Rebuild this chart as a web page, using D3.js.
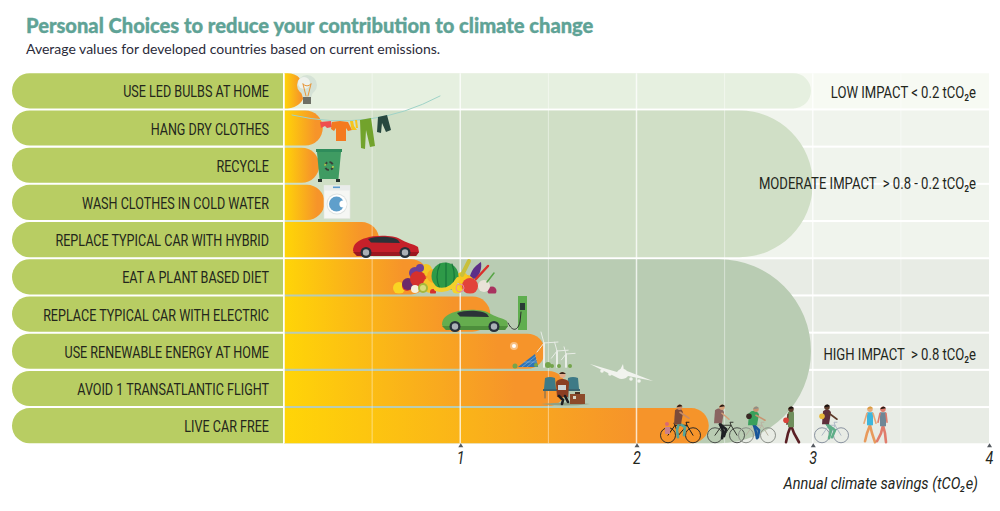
<!DOCTYPE html>
<html>
<head>
<meta charset="utf-8">
<script src="https://d3js.org/d3.v7.min.js"></script>
<title>Personal Choices</title>
<style>
    html, body {margin: 0; padding: 0; background: white;}
    svg {display: block;}
    .narrow {font-family: "Roboto", sans-serif; fill: #23261c;}
</style>
</head>
<body>
<script>
const choices = ['USE LED BULBS AT HOME', 'HANG DRY CLOTHES', 'RECYCLE', 'WASH CLOTHES IN COLD WATER',
    'REPLACE TYPICAL CAR WITH HYBRID', 'EAT A PLANT BASED DIET', 'REPLACE TYPICAL CAR WITH ELECTRIC',
    'USE RENEWABLE ENERGY AT HOME', 'AVOID 1 TRANSATLANTIC FLIGHT', 'LIVE CAR FREE']
const savings = [0.12, 0.22, 0.2, 0.23, 0.54, 0.82, 1.17, 1.48, 1.6, 2.41]

// which rows each impact band covers, and how far its rounded shape reaches
const bandNames = ['LOW IMPACT < 0.2 tCO₂e', 'MODERATE IMPACT  > 0.8 - 0.2 tCO₂e', 'HIGH IMPACT  > 0.8 tCO₂e']
const bandFirstRow = [0, 1, 5]
const bandLastRow = [0, 4, 9]
const bandReach = [2.99, 3, 2.99]
const bandBack = ['#f7faf3', '#f0f4ed', '#e8ece5']
const bandFill = ['#e6f0e0', '#d0dfc6', '#b9ccb3']

const tickValues = [1, 2, 3, 4]
const gridValues = [0.5, 1, 1.5, 2, 2.5, 3, 3.5]

const width = 1000
const height = 511

const svg = d3.select('body').append('svg')
    .attr('width', width)
    .attr('height', height)

const x = d3.scaleLinear().domain([0, 4]).range([284, 989])
const y = d3.scaleBand().domain(d3.range(choices.length)).range([72.5, 444]).paddingInner(0.055).paddingOuter(0.02)
const rowH = y.bandwidth()
const rowR = rowH / 2

// flat left edge, rounded right edge
const roundRight = (x0, x1, y0, y1, r) =>
    `M${x0},${y0}H${x1 - r}A${r},${r} 0 0 1 ${x1},${y0 + r}V${y1 - r}A${r},${r} 0 0 1 ${x1 - r},${y1}H${x0}Z`

// no condensed face is installed, so squeeze Roboto sideways
const squeeze = (px, py, sx) => `translate(${px},${py}) scale(${sx},1)`

svg.append('text').attr('x', 26).attr('y', 33)
    .attr('font-family', 'Lato').attr('font-weight', 900).attr('font-size', 20.1).attr('fill', '#5fa396')
    .attr('stroke', '#5fa396').attr('stroke-width', 0.35)
    .text('Personal Choices to reduce your contribution to climate change')
svg.append('text').attr('x', 26).attr('y', 54)
    .attr('font-family', 'Lato').attr('font-size', 14).attr('fill', '#2b2b3a')
    .text('Average values for developed countries based on current emissions.')

const defs = svg.append('defs')
const grad = defs.append('linearGradient').attr('id', 'barGrad')
grad.append('stop').attr('offset', '0%').attr('stop-color', '#ffd507')
grad.append('stop').attr('offset', '82%').attr('stop-color', '#f6942a')

// band backgrounds, row by row
bandNames.forEach((name, b) => {
    d3.range(bandFirstRow[b], bandLastRow[b] + 1).forEach(r => {
        svg.append('rect')
            .attr('x', x(0)).attr('y', y(r))
            .attr('width', x(4) - x(0)).attr('height', rowH)
            .attr('fill', bandBack[b])
    })
    const y0 = y(bandFirstRow[b])
    const y1 = y(bandLastRow[b]) + rowH
    svg.append('path')
        .attr('d', roundRight(x(0), x(bandReach[b]), y0, y1, (y1 - y0) / 2))
        .attr('fill', bandFill[b])
})

// label pills
svg.selectAll('.pill').data(choices).enter().append('path')
    .attr('class', 'pill')
    .attr('d', (d, i) => {
        const t = y(i), r = rowR
        return `M283,${t}V${t + rowH}H${12 + r}A${r},${r} 0 0 1 ${12 + r},${t}Z`
    })
    .attr('fill', '#b8cd63')

svg.selectAll('.label').data(choices).enter().append('text')
    .attr('class', 'label narrow')
    .attr('transform', (d, i) => squeeze(269, y(i) + rowH / 2 + 6.5, 0.74))
    .attr('text-anchor', 'end')
    .attr('font-size', 17)
    .text(d => d)

// bars
svg.selectAll('.bar').data(savings).enter().append('path')
    .attr('class', 'bar')
    .attr('d', (d, i) => roundRight(x(0), x(d), y(i), y(i) + rowH, rowR))
    .attr('fill', 'url(#barGrad)')

// grid
svg.selectAll('.grid').data(gridValues).enter().append('line')
    .attr('class', 'grid')
    .attr('x1', d => x(d)).attr('x2', d => x(d))
    .attr('y1', y(0)).attr('y2', y(9) + rowH)
    .attr('stroke', 'white')
    .attr('stroke-width', d => Number.isInteger(d) ? 1.5 : 1)
    .attr('stroke-opacity', d => Number.isInteger(d) ? 0.75 : 0.45)

// white edge between pills and bars
svg.append('line').attr('x1', x(0)).attr('x2', x(0)).attr('y1', y(0)).attr('y2', y(9) + rowH)
    .attr('stroke', 'white').attr('stroke-width', 1.5)

// the labels do not sit exactly on the middle of their bands
const labelNudge = [0.5, -1, 2.5]
svg.selectAll('.bandLabel').data(bandNames).enter().append('text')
    .attr('class', 'bandLabel narrow')
    .attr('transform', (d, i) => squeeze(976, (y(bandFirstRow[i]) + y(bandLastRow[i]) + rowH) / 2 + 6.5 + labelNudge[i], 0.77))
    .attr('text-anchor', 'end')
    .attr('font-size', 17)
    .style('white-space', 'pre')
    .text(d => d)

// axis
const axisY = y(9) + rowH
const axis = svg.append('g')
    .attr('transform', `translate(0,${axisY})`)
    .call(d3.axisBottom(x).tickValues(tickValues).tickSize(0).tickPadding(8).tickFormat(d3.format('d')))
axis.select('.domain').remove()
axis.selectAll('text')
    .attr('class', 'narrow')
    .attr('font-size', 18)
    .attr('font-style', 'italic')
    .attr('transform', 'scale(0.8,1)')
axis.selectAll('.tick').append('path')
    .attr('d', 'M0,0L2.5,4H-2.5Z')
    .attr('fill', '#555a60')

svg.append('text').attr('class', 'narrow')
    .attr('transform', squeeze(978, 489, 0.88))
    .attr('text-anchor', 'end')
    .attr('font-size', 16.5).attr('font-style', 'italic')
    .text('Annual climate savings (tCO₂e)')

// ---- illustrations ----
const art = svg.append('g')
const shape = (d, fill, g = art) => g.append('path').attr('d', d).attr('fill', fill)
const stroke = (d, color, w, g = art) => g.append('path').attr('d', d).attr('fill', 'none')
    .attr('stroke', color).attr('stroke-width', w).attr('stroke-linecap', 'round')
const disc = (cx, cy, r, fill, g = art) => g.append('circle').attr('cx', cx).attr('cy', cy).attr('r', r).attr('fill', fill)
const box = (bx, by, w, h, fill, g = art) => g.append('rect').attr('x', bx).attr('y', by).attr('width', w).attr('height', h).attr('fill', fill)

// bulb
disc(307, 85, 10, '#d5e2d6')
disc(304, 83, 6, '#eef2ec')
shape('M301,92L313,92L311,98H303Z', '#d5e2d6')
stroke('M303,84L306,96M311,84L308,96M303,84Q307,88 311,84', '#e8973a', 1)
box(303, 97, 8, 7, '#6d6f66')

// clothes line
stroke('M292,115Q370,133 440,96', '#9fd3c8', 1)
shape('M320,122L331,121L332,127L327,128L325,126L321,128Z', '#ef4e4e')
shape('M332,122L340,121L348,122L352,130L348,131L346,128L346,141L336,141L336,128L334,131L331,129Z', '#f47a20')
shape('M350,121L353,121L354,126L357,130L352,130L351,127ZM355,120L357,120L358,128L356,128Z', '#f6c41a')
shape('M360,120L371,118L375,146L370,147L366,130L365,149L361,148Z', '#72a32c')
shape('M378,117L387,115L391,130L386,132L382,123L381,133L377,132Z', '#28483f')

// bin
shape('M316,149H342V152H316Z', '#2f8c5b')
shape('M317,152H341L338.5,179H319.5Z', '#3f9b62')
box(318, 179, 4, 3, '#26332e')
box(336, 179, 4, 3, '#26332e')
art.append('circle').attr('cx', 329).attr('cy', 166).attr('r', 4)
    .attr('fill', 'none').attr('stroke', '#3a3f38').attr('stroke-width', 2).attr('stroke-dasharray', '4 2.3')
art.append('circle').attr('cx', 329).attr('cy', 166).attr('r', 4)
    .attr('fill', 'none').attr('stroke', '#a7cb52').attr('stroke-width', 2).attr('stroke-dasharray', '2 10.5')

// washing machine
box(324, 185.5, 26, 33, '#f6f7f4').attr('stroke', '#e4e7e2').attr('stroke-width', 0.6)
box(324, 185.5, 26, 5, '#e9ecea')
box(333, 186.5, 7, 1.6, '#5b9bd0')
disc(337, 204, 10.5, '#dfe3e1')
disc(337, 204, 9.5, '#ffffff')
disc(336.5, 204, 7.5, '#5f9fcb')
disc(343, 204, 3.6, '#ffffff')

// cars
const car = (cx, cy, s, color, dark) => {
    const g = art.append('g').attr('transform', `translate(${cx},${cy}) scale(${s})`)
    shape('M-33,4C-33,-3 -28,-7 -20,-9C-12,-12 8,-12 14,-8C20,-4 28,-3 32,0L33,5L30,9H-29Z', color, g)
    shape('M-18,-8C-10,-11 6,-11 12,-7L14,-4L-15,-4.5Z', '#2b3238', g)
    shape('M-33,5L33,5L30,9H-29Z', dark, g)
    ;[-20, 19].forEach(wx => {
        disc(wx, 5.5, 5.5, '#27303a', g)
        disc(wx, 5.5, 3.2, '#aab0b6', g)
    })
}
car(386, 247, 1, '#c5202a', '#9b1820')
car(475, 321, 1, '#65ad4e', '#4d8f3c')

// charger
box(518, 296, 9, 34, '#5fae4f')
box(520, 303, 5, 7, '#2a3a35')
stroke('M508,323C513,333 518,330 520,322L521,312', '#2a2e2a', 1)

// plant based pile
const food = art.append('g')
food.append('clipPath').attr('id', 'foodClip').append('rect').attr('x', 390).attr('y', 255).attr('width', 115).attr('height', 38.5)
food.attr('clip-path', 'url(#foodClip)')
const foodDots = [
    [399, 288, 6, '#f9d423'], [407, 286, 5, '#d93a2b'], [415, 273, 6, '#6b3f98'], [408, 284, 6, '#6c2a6a'],
    [426, 270, 6, '#f3c623'], [418, 279, 8, '#d5302d'], [431, 285, 8, '#f7c52a'], [415, 289, 4, '#f6f0dc'],
    [434, 276, 7, '#f7a823'], [420, 268, 4, '#6b3f98'], [457, 289, 5, '#f6d325'],
    [467, 283, 8, '#f7b81f'], [462, 278, 6, '#f7c71f'], [470, 286, 8, '#e2433a'], [492, 291, 4.5, '#a8325f'],
    [433, 292, 3, '#d5302d'], [484, 286, 6, '#e9e2d8']
]
foodDots.forEach(d => disc(d[0], d[1], d[2], d[3], food))
disc(423, 288, 5, '#a6b83a', food)
disc(423, 288, 3, '#d7dc7c', food)
disc(445, 276, 13.5, '#2e9a48', food)
stroke('M440,264Q434,277 440,289M446,263V290M452,264Q457,277 451,289', '#17753a', 1.2, food)
stroke('M436,289Q450,293 458,279', '#f3d02c', 4, food)
stroke('M462,275L469,261', '#c9c03a', 4, food)
shape('M470,276C472,268 478,264 481,262C482,268 480,276 474,279Z', '#5c2e88', food)
stroke('M476,279L488,266', '#d9302c', 2.5, food)
stroke('M487,282L494,273', '#58a446', 1.5, food)
food.append('circle').attr('cx', 460).attr('cy', 288).attr('r', 4)
    .attr('fill', 'none').attr('stroke', '#e88aa0').attr('stroke-width', 1)

// renewable energy
disc(514, 346, 2, '#ffffff')
disc(514, 346, 4, '#ffffff').attr('opacity', 0.4)
shape('M518,367L535,354L538,367Z', '#2f74b5')
stroke('M522,367L536,356M527,367L537,359M524,362L537,362', '#9cc6e4', 0.5)
;[[544, 343, 24, 1], [557, 351, 16, 0.8], [566, 354, 13, 0.65]].forEach(t => {
    stroke(`M${t[0]},${t[1]}V${t[1] + t[2]}`, '#f3f5f1', 1.7)
    stroke(`M${t[0]},${t[1]}L${t[0] - 3 * t[3]},${t[1] - 11 * t[3]}M${t[0]},${t[1]}L${t[0] + 14 * t[3]},${t[1] - 1 * t[3]}M${t[0]},${t[1]}L${t[0] - 7 * t[3]},${t[1] + 9 * t[3]}`, '#e8ece6', 1)
})
;[[515, 366, 2.5], [536, 365, 2], [548, 365, 3], [552, 366, 2], [559, 366, 2], [570, 366, 2]].forEach(b => disc(b[0], b[1], b[2], '#74a54c'))

// plane
shape('M590,364L617,372C620,368 624,368 627,371L653,381L628,376C626,379 621,380 618,378Z', '#f1f3ee')
shape('M620,370L623,364L624,371Z', '#f1f3ee')
;[[602, 371], [610, 374], [631, 379], [639, 381]].forEach(e => disc(e[0], e[1], 1.8, '#f1f3ee'))

// traveller on bench
shape('M541,404Q566,401 590,404Q566,407 541,404Z', '#8fa084')
;[[545, 378], [568, 378]].forEach(s => {
    shape(`M${s[0]},${s[1]}q5,-2 10,0l1,11h-12Z`, '#3e7a86')
    box(s[0] - 2, s[1] + 11, 14, 2, '#3a6470')
    stroke(`M${s[0]},${s[1] + 13}v7`, '#4b6068', 0.8)
})
box(570, 394, 15, 10, '#8c4a2a')
box(575, 392, 5, 2, '#4a3020')
box(573, 396, 3, 3, '#d9d6c4')
shape('M556,383C556,380 560,379 562,379C565,379 569,380 569,383L568,397H557Z', '#8b3e22')
box(558, 385, 8, 5, '#cfd4d6')
stroke('M559,396L563,400L562,404M565,396L568,402', '#1d1d20', 2.6)
disc(562.5, 375, 3, '#e2ac8c')
shape('M559,374Q562,370 566,374Z', '#3a2418')

// people on bikes and on foot
const person = (px, py, o) => {
    const g = art.append('g').attr('transform', `translate(${px},${py})`)
    stroke(o.back, o.legs, 2.6, g)
    stroke(o.front, o.legs, 2.6, g)
    shape(o.torso, o.top, g)
    stroke(o.arm, o.skin, 1.6, g)
    disc(o.hx, o.hy, 2.7, o.skin, g)
    shape(`M${o.hx - 3},${o.hy}Q${o.hx},${o.hy - 5} ${o.hx + 3},${o.hy - 1}Z`, o.hair, g)
    if (o.pack) disc(o.pack[0], o.pack[1], 2.8, o.pack[2], g)
}
const bike = (w1, w2, color, frame) => {
    ;[w1, w2].forEach(w => art.append('circle')
        .attr('cx', w).attr('cy', y(9) + rowH - 8).attr('r', 7.5)
        .attr('fill', 'none').attr('stroke', color).attr('stroke-width', 1))
    const by = y(9) + rowH - 8
    const m = w1 + (w2 - w1) * 0.42
    stroke(`M${w1},${by}L${w1 + 7},${by - 10}H${w2 - 6}L${w2},${by}M${w1 + 7},${by - 10}L${m},${by}L${w2 - 6},${by - 10}M${w2 - 6},${by - 10}l-1,-3h3M${w1 + 7},${by - 10}l-1,-2`, frame, 1)
}
bike(668, 693, '#2c2a28', '#1c1c1c')
bike(715, 737, '#4c504c', '#33362f')
bike(746, 768, '#8a8f88', '#b9b3a2')
bike(822, 841, '#8a93a0', '#aeb9c6')

const floor = y(9) + rowH
person(679, floor, {
    back: 'M0,-20L-2,-13L-1,-6', front: 'M0,-20L6,-16L5,-8', legs: '#55a59a', torso: 'M-4,-33C0,-36 4,-34 4,-30L2,-19H-5Z', top: '#7a4a3a',
    arm: 'M1,-31L10,-25', skin: '#c98c64', hx: 0.5, hy: -36, hair: '#2a1a14'
})
disc(667, 424, 2, '#d96a74')
box(665, 427, 5, 7, '#c9808a')
person(720, floor, {
    back: 'M0,-19L3,-12L2,-5', front: 'M0,-19L6,-14L4,-7', legs: '#1d2024', torso: 'M-5,-33C-2,-36 3,-35 4,-31L2,-20H-6Z', top: '#8a6460',
    arm: 'M2,-30L9,-24', skin: '#d6a078', hx: 2, hy: -36, hair: '#2a1a14'
})
person(754, floor, {
    back: 'M0,-18L2,-11L3,-5', front: 'M0,-18L5,-13L4,-6', legs: '#18569a', torso: 'M-5,-30C-2,-34 3,-33 5,-29L3,-18H-6Z', top: '#3aa05c',
    arm: 'M2,-28L11,-23', skin: '#c99470', hx: 2, hy: -34, hair: '#8b8f88', pack: [-5, -27, '#3a2a25']
})
person(791, floor, {
    back: 'M0,-18L-3,-10L-5,-1', front: 'M0,-18L3,-10L8,-1', legs: '#5a1f24', torso: 'M-3,-31C0,-34 3,-33 3,-30L3,-16H-3Z', top: '#6f8e5c',
    arm: 'M-3,-29L-4,-19', skin: '#5e3b2a', hx: 0, hy: -34, hair: '#1a1210', pack: [-5, -23, '#d9433a']
})
person(827, floor, {
    back: 'M0,-19L4,-13L2,-5', front: 'M0,-19L8,-13L5,-6', legs: '#5fae88', torso: 'M-4,-32C-1,-35 3,-34 4,-31L2,-19H-5Z', top: '#5e2f3a',
    arm: 'M2,-30L10,-24', skin: '#5e3b2a', hx: 0, hy: -36, hair: '#14100e', pack: [-5, -27, '#e8b83a']
})
person(870, floor, {
    back: 'M0,-18L-3,-10L-5,-2', front: 'M0,-18L2,-10L5,-1', legs: '#e89a5c', torso: 'M-3,-31H3L3,-18H-3Z', top: '#3eb6dc',
    arm: 'M-3,-30L-6,-20M3,-30L6,-20', skin: '#e8a878', hx: 0, hy: -34, hair: '#d9a040'
})
person(883, floor, {
    back: 'M0,-18L-2,-10L-6,-2', front: 'M0,-18L2,-10L3,-1', legs: '#e07c6c', torso: 'M-3,-31H3L3,-17H-3Z', top: '#6f8796',
    arm: 'M-3,-30L-5,-21M3,-30L4,-21', skin: '#e07c6c', hx: 0, hy: -34, hair: '#2a1a14'
})
</script>
</body>
</html>
